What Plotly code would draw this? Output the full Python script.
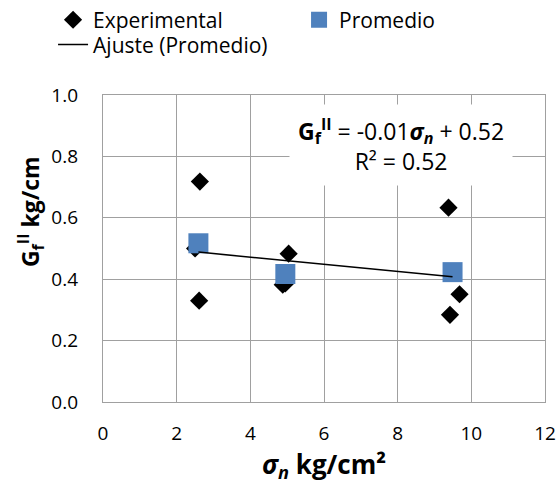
import numpy as np
import plotly.graph_objects as go

# Experimental points
exp_x = [2.63, 2.61, 2.50, 5.04, 4.88, 4.95, 9.38, 9.68, 9.42]
exp_y = [0.718, 0.330, 0.500, 0.483, 0.382, 0.386, 0.633, 0.351, 0.284]

# Averages (Promedio)
avg_x = [2.59, 4.95, 9.49]
avg_y = [0.517, 0.417, 0.423]

x_ticks = [0, 2, 4, 6, 8, 10, 12]
y_ticks = [0.0, 0.2, 0.4, 0.6, 0.8, 1.0]
y_tick_labels = ["0.0", "0.2", "0.4", "0.6", "0.8", "1.0"]

slope, intercept = np.polyfit(avg_x, avg_y, 1)
fit_x = [min(avg_x), max(avg_x)]
fit_y = [slope * v + intercept for v in fit_x]

FONT = "Open Sans"

fig = go.Figure()
fig.add_trace(go.Scatter(
    x=exp_x, y=exp_y, mode="markers", name="Experimental", legend="legend",
    marker=dict(symbol="diamond", size=14, color="black"),
))
fig.add_trace(go.Scatter(
    x=avg_x, y=avg_y, mode="markers", name="Promedio", legend="legend",
    marker=dict(symbol="square", size=20, color="#4f81bd"),
))
fig.add_trace(go.Scatter(
    x=fit_x, y=fit_y, mode="lines", name="Ajuste (Promedio)", legend="legend2",
    line=dict(color="black", width=1.5),
))

fig.add_annotation(
    xref="x", yref="y", x=8.08, y=0.837,
    text="<b>G<sub>f</sub><sup>II</sup></b> = -0.01<b><i>σ<sub>n</sub></i></b> + 0.52<br>R² = 0.52",
    showarrow=False, bgcolor="white", font=dict(family=FONT, size=23, color="black"),
    align="center", borderpad=8,
)

# Y-axis title (placed as in reference, above the axis centre)
fig.add_annotation(
    xref="paper", yref="paper", x=-0.165, y=0.619,
    xanchor="center", yanchor="middle",
    text="<b>G<sub>f</sub><sup>II</sup> kg/cm</b>", textangle=-90,
    showarrow=False, font=dict(family=FONT, size=23, color="black"),
)

legend_common = dict(
    orientation="h", xref="paper", yref="paper",
    xanchor="left", yanchor="middle",
    font=dict(family=FONT, size=21, color="black"),
    entrywidth=201, entrywidthmode="pixels",
    traceorder="normal", tracegroupgap=0, itemsizing="trace",
    bgcolor="rgba(0,0,0,0)",
)

fig.update_layout(
    width=558, height=485,
    margin=dict(l=103, r=13, t=95, b=83, autoexpand=False),
    paper_bgcolor="white", plot_bgcolor="white",
    font=dict(family=FONT, size=19, color="black"),
    showlegend=True,
    legend=dict(legend_common, x=-0.113, y=1.244),
    legend2=dict(legend_common, x=-0.113, y=1.163),
    xaxis=dict(
        range=[0, 12], tickvals=x_ticks, ticktext=[str(v) for v in x_ticks],
        showgrid=True, gridcolor="#a0a0a0", gridwidth=1.3,
        showline=True, linecolor="#a0a0a0", linewidth=1.3, mirror=True,
        zeroline=False, ticks="", ticklabelstandoff=14,
        tickfont=dict(family=FONT, size=19),
        title=dict(text="<b><i>σ<sub>n</sub></i> kg/cm²</b>", font=dict(family=FONT, size=26), standoff=10),
    ),
    yaxis=dict(
        range=[0, 1.0], tickvals=y_ticks, ticktext=y_tick_labels,
        showgrid=True, gridcolor="#a0a0a0", gridwidth=1.3,
        showline=True, linecolor="#a0a0a0", linewidth=1.3, mirror=True,
        zeroline=False, ticks="", ticklabelstandoff=20,
        tickfont=dict(family=FONT, size=19),
    ),
)

fig.write_html("out.html", config={"displayModeBar": False},
               post_script="document.body.style.margin='0';")
